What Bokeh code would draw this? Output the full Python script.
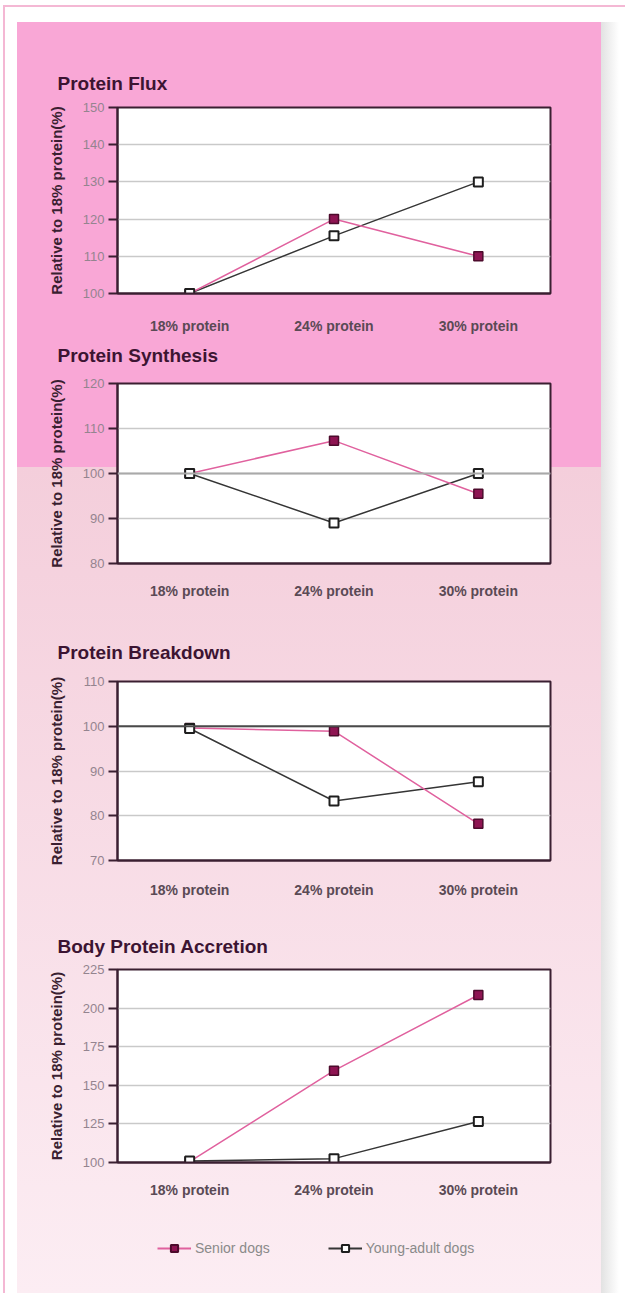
from bokeh.plotting import figure
from bokeh.layouts import column
from bokeh.models import (FactorRange, Range1d, FixedTicker, Span, Legend,
                          LegendItem, InlineStyleSheet, Title)
from bokeh.embed import file_html
from bokeh.resources import INLINE

# ---- data -------------------------------------------------------------
doses = ["18% protein", "24% protein", "30% protein"]

titles = ["Protein Flux", "Protein Synthesis", "Protein Breakdown",
          "Body Protein Accretion"]

senior_flux = [100, 120, 110]
young_flux = [100, 115.5, 130]

senior_synthesis = [100, 107.3, 95.5]
young_synthesis = [100, 89, 100]

senior_breakdown = [99.6, 98.9, 78.2]
young_breakdown = [99.5, 83.3, 87.6]

senior_accretion = [100.5, 159.5, 208.5]
young_accretion = [101, 102.5, 126.5]

flux_ticks = [100, 110, 120, 130, 140, 150]
synthesis_ticks = [80, 90, 100, 110, 120]
breakdown_ticks = [70, 80, 90, 100, 110]
accretion_ticks = [100, 125, 150, 175, 200, 225]

y_label = "Relative to 18% protein(%)"
series_names = ["Senior dogs", "Young-adult dogs"]

# ---- styling ------------------------------------------------------------
DARK = "#3a1f31"
TITLE_C = "#3c1432"
PINK_LINE = "#e0619e"
SENIOR_FILL = "#8e1452"
SENIOR_EDGE = "#4d0b2c"
YOUNG_LINE = "#353535"
FONT = "Liberation Sans"


def heading(text, standoff):
    return Title(text=text, align="left", offset=-60, standoff=standoff,
                 text_font=FONT, text_font_size="19px",
                 text_font_style="bold", text_color=TITLE_C)


def make_panel(senior, young, ticks, height, top, bottom, label_gap,
               ref_color=None):
    p = figure(x_range=FactorRange(factors=doses),
               y_range=Range1d(ticks[0], ticks[-1]),
               width=625, height=height,
               min_border_left=117, min_border_right=75,
               min_border_top=top, min_border_bottom=bottom,
               output_backend="svg", toolbar_location=None)
    p.border_fill_color = None
    p.background_fill_color = "white"
    p.outline_line_color = DARK
    p.outline_line_width = 2

    ya = p.yaxis[0]
    ya.ticker = FixedTicker(ticks=ticks)
    ya.minor_tick_line_color = None
    ya.major_tick_in = 0
    ya.major_tick_out = 9
    ya.major_tick_line_color = DARK
    ya.major_tick_line_width = 2
    ya.axis_line_color = DARK
    ya.axis_line_width = 2
    ya.major_label_standoff = 4
    ya.major_label_text_font = FONT
    ya.major_label_text_font_size = "13px"
    ya.major_label_text_color = "#94848f"
    ya.axis_label = y_label
    ya.axis_label_text_font = FONT
    ya.axis_label_text_font_size = "15px"
    ya.axis_label_text_font_style = "bold"
    ya.axis_label_text_color = DARK
    ya.axis_label_standoff = 15

    xa = p.xaxis[0]
    xa.major_tick_in = 0
    xa.major_tick_out = 0
    xa.axis_line_color = DARK
    xa.axis_line_width = 2
    xa.major_label_standoff = label_gap
    xa.major_label_text_font = FONT
    xa.major_label_text_font_size = "14px"
    xa.major_label_text_font_style = "bold"
    xa.major_label_text_color = "#5a4a55"

    p.xgrid.visible = False
    p.ygrid.grid_line_color = "#c9c9c9"
    p.ygrid.grid_line_width = 1.5

    if ref_color:
        p.add_layout(Span(location=100, dimension="width",
                          line_color=ref_color, line_width=2))

    p.line(doses, young, line_color=YOUNG_LINE, line_width=1.5)
    p.line(doses, senior, line_color=PINK_LINE, line_width=1.5)
    p.scatter(doses, senior, marker="square", size=9, fill_color=SENIOR_FILL,
              line_color=SENIOR_EDGE, line_width=1.5)
    p.scatter(doses, young, marker="square", size=9, fill_color="white",
              line_color="#1e1e1e", line_width=2)
    return p


p1 = make_panel(senior_flux, young_flux, flux_ticks, 376, 107, 83, 24)
p2 = make_panel(senior_synthesis, young_synthesis, synthesis_ticks,
                244, 7, 57, 19, ref_color="#a9a9a9")
p3 = make_panel(senior_breakdown, young_breakdown, breakdown_ticks,
                300, 60, 60, 21, ref_color="#4a4a4a")
p4 = make_panel(senior_accretion, young_accretion, accretion_ticks,
                295, 48, 53, 19)

# headings: the second one hangs under the first panel's category labels
p1.add_layout(heading(titles[0], 28), "above")
p1.add_layout(heading(titles[1], 13), "below")
p3.add_layout(heading(titles[2], 38), "above")
p4.add_layout(heading(titles[3], 26), "above")

# ---- legend strip -------------------------------------------------------
leg = figure(width=625, height=78, x_range=(0, 1), y_range=(0, 1),
             min_border=0, output_backend="svg", toolbar_location=None)
leg.axis.visible = False
leg.grid.visible = False
leg.outline_line_color = None
leg.border_fill_color = None
leg.background_fill_color = None

off = [-10]
s_line = leg.line(off, off, line_color=PINK_LINE, line_width=2)
s_mark = leg.scatter(off, off, marker="square", size=9, fill_color=SENIOR_FILL,
                     line_color=SENIOR_EDGE, line_width=2)
y_line = leg.line(off, off, line_color=YOUNG_LINE, line_width=2)
y_mark = leg.scatter(off, off, marker="square", size=9, fill_color="white",
                     line_color="#1e1e1e", line_width=2)

# the strip's frame lines up with the panels above (starts at x = 117)
legend = Legend(items=[LegendItem(label=series_names[0], renderers=[s_line, s_mark]),
                       LegendItem(label=series_names[1], renderers=[y_line, y_mark])],
                orientation="horizontal", location=(40, 36),
                glyph_width=34, glyph_height=18, label_height=14,
                label_standoff=4, spacing=58, padding=0, margin=0,
                border_line_color=None, background_fill_alpha=0,
                label_text_font=FONT, label_text_font_size="14px",
                label_text_color="#8a8a8a")
leg.add_layout(legend)

# ---- page backdrop ------------------------------------------------------
css = """
:host {
  background:
    linear-gradient(#f4b8d4, #f4b8d4) 3px 5px / 622px 2px no-repeat,
    linear-gradient(#f4b8d4, #f4b8d4) 3px 5px / 2px 1288px no-repeat,
    linear-gradient(#f9a7d6, #f9a7d6) 17px 22px / 584px 445px no-repeat,
    linear-gradient(#f4cedb, #fcedf3) 17px 467px / 584px 826px no-repeat,
    linear-gradient(to right, #e2e2e2, #ffffff) 601px 22px / 18px 1271px no-repeat,
    #ffffff;
}
"""

page = column(p1, p2, p3, p4, leg, spacing=0, width=625, height=1293,
              stylesheets=[InlineStyleSheet(css=css)])

open("out.html", "w").write(file_html(page, INLINE))
